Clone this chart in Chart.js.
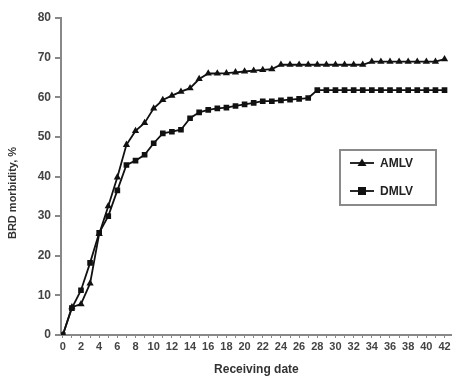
<!DOCTYPE html>
<html>
<head>
<meta charset="utf-8">
<script src="https://cdn.jsdelivr.net/npm/chart.js@4.4.1/dist/chart.umd.min.js"></script>
<style>
  html, body { margin: 0; padding: 0; background: #fff; }
  #wrap { width: 456px; height: 379px; }
</style>
</head>
<body>
<div id="wrap"><canvas id="line-chart"></canvas></div>
<script>
// receiving date (days)
var days = [];
for (var d = 0; d <= 42; d++) days.push(d);

var amlv = [0, 7, 7.8, 13, 25.5, 32.5, 39.8, 48, 51.5, 53.5, 57.2, 59.3, 60.4, 61.4, 62.3,
    64.6, 66, 66, 66.1, 66.3, 66.5, 66.7, 66.9, 67.1, 68.2, 68.2, 68.2, 68.2, 68.2, 68.2,
    68.2, 68.2, 68.2, 68.2, 69, 69, 69, 69, 69, 69, 69, 69, 69.6];
var dmlv = [0, 6.8, 11.3, 18.2, 25.8, 30, 36.5, 42.9, 44, 45.5, 48.4, 50.9, 51.3, 51.8, 54.7,
    56.2, 56.8, 57.2, 57.4, 57.8, 58.2, 58.6, 59, 59, 59.2, 59.4, 59.6, 59.8, 61.8, 61.8,
    61.8, 61.8, 61.8, 61.8, 61.8, 61.8, 61.8, 61.8, 61.8, 61.8, 61.8, 61.8, 61.8];

var seriesNames = ["AMLV", "DMLV"];
var yTicks = [0, 10, 20, 30, 40, 50, 60, 70, 80];

function pts(vals) {
    return days.map(function (x, i) { return { x: x, y: vals[i] }; });
}

var boxLegend = {
    id: 'boxLegend',
    afterDraw: function (chart) {
        var ctx = chart.ctx;
        ctx.save();
        ctx.strokeStyle = '#8a8a8a';
        ctx.lineWidth = 2;
        ctx.strokeRect(340, 150, 96, 55);
        var rows = [163, 191];
        chart.data.datasets.forEach(function (ds, i) {
            var y = rows[i];
            ctx.strokeStyle = '#111';
            ctx.lineWidth = 1.8;
            ctx.beginPath();
            ctx.moveTo(350, y);
            ctx.lineTo(374, y);
            ctx.stroke();
            ctx.fillStyle = '#111';
            if (ds.pointStyle === 'triangle') {
                ctx.beginPath();
                ctx.moveTo(362, y - 4.5);
                ctx.lineTo(366.5, y + 3);
                ctx.lineTo(357.5, y + 3);
                ctx.closePath();
                ctx.fill();
            } else {
                ctx.fillRect(358, y - 4, 8, 8);
            }
            ctx.fillStyle = '#222';
            ctx.font = 'bold 12px "Liberation Sans", Arial, sans-serif';
            ctx.textBaseline = 'middle';
            ctx.fillText(ds.label, 380, y + 1);
        });
        ctx.restore();
    }
};

// y title drawn a little below the middle, as in the source figure
var yTitle = {
    id: 'yTitle',
    afterDraw: function (chart) {
        var ctx = chart.ctx;
        ctx.save();
        ctx.translate(13, 193);
        ctx.rotate(-Math.PI / 2);
        ctx.fillStyle = '#333';
        ctx.font = 'bold 11px "Liberation Sans", Arial, sans-serif';
        ctx.textAlign = 'center';
        ctx.textBaseline = 'middle';
        ctx.fillText('BRD morbidity, %', 0, 0);
        ctx.restore();
    }
};

new Chart(document.getElementById("line-chart"), {
    type: 'line',
    data: {
        datasets: [
            {
                label: seriesNames[0],
                data: pts(amlv),
                borderColor: "#111",
                backgroundColor: "#111",
                borderWidth: 1.8,
                pointStyle: 'triangle',
                pointRadius: 4.2,
                pointBorderWidth: 0,
                tension: 0,
                fill: false
            }, {
                label: seriesNames[1],
                data: pts(dmlv),
                borderColor: "#111",
                backgroundColor: "#111",
                borderWidth: 1.8,
                pointStyle: 'rect',
                pointRadius: 4,
                pointBorderWidth: 0,
                tension: 0,
                fill: false
            }
        ]
    },
    options: {
        responsive: true,
        maintainAspectRatio: false,
        animation: false,
        layout: { padding: { top: 18, right: 1, left: 0, bottom: 0 } },
        plugins: {
            legend: { display: false },
            tooltip: { enabled: false }
        },
        scales: {
            x: {
                type: 'linear',
                min: -0.2,
                max: 42.8,
                afterBuildTicks: function (scale) {
                    scale.ticks = days.map(function (v) { return { value: v }; });
                },
                afterFit: function (scale) { scale.height = 44; },
                ticks: {
                    autoSkip: false,
                    maxRotation: 0,
                    padding: 2,
                    color: '#444',
                    font: { family: '"Liberation Sans", Arial, sans-serif', size: 11, weight: 'bold' },
                    callback: function (v) { return v % 2 === 0 ? v : ''; }
                },
                grid: { drawOnChartArea: false, tickLength: 3, color: '#888', lineWidth: 1 },
                border: { color: '#888', width: 2 },
                title: {
                    display: true,
                    text: 'Receiving date',
                    color: '#333',
                    padding: { top: 0, bottom: 2 },
                    font: { family: '"Liberation Sans", Arial, sans-serif', size: 12, weight: 'bold' }
                }
            },
            y: {
                min: 0,
                max: 80,
                afterBuildTicks: function (scale) {
                    scale.ticks = yTicks.map(function (v) { return { value: v }; });
                },
                afterFit: function (scale) { scale.width = 61; },
                ticks: {
                    padding: 4,
                    color: '#444',
                    font: { family: '"Liberation Sans", Arial, sans-serif', size: 12, weight: 'bold' }
                },
                grid: { drawOnChartArea: false, tickLength: 6, color: '#888', lineWidth: 2 },
                border: { color: '#888', width: 2 }
            }
        }
    },
    plugins: [boxLegend, yTitle]
});
</script>
</body>
</html>
